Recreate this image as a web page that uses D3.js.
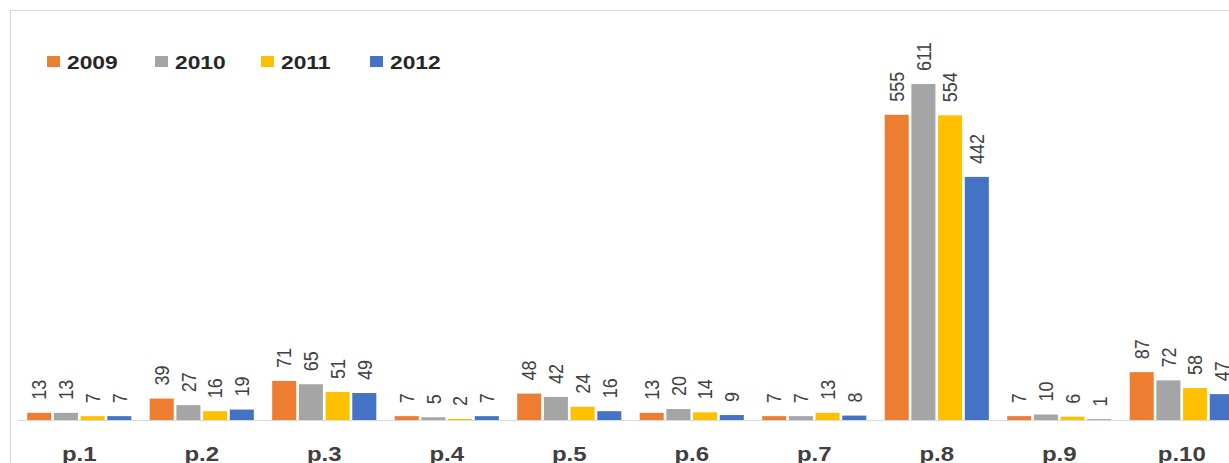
<!DOCTYPE html>
<html>
<head>
<meta charset="utf-8">
<script src="https://cdn.jsdelivr.net/npm/d3@7"></script>
<style>
  html, body { margin: 0; padding: 0; background: #fff; overflow: hidden; }
  svg { display: block; }
</style>
</head>
<body>
<svg id="chart" width="1229" height="463"></svg>
<script>
const categories = ["p.1", "p.2", "p.3", "p.4", "p.5", "p.6", "p.7", "p.8", "p.9", "p.10"];
const seriesNames = ["2009", "2010", "2011", "2012"];
const values2009 = [13, 39, 71, 7, 48, 13, 7, 555, 7, 87];
const values2010 = [13, 27, 65, 5, 42, 20, 7, 611, 10, 72];
const values2011 = [7, 16, 51, 2, 24, 14, 13, 554, 6, 58];
const values2012 = [7, 19, 49, 7, 16, 9, 8, 442, 1, 47];
const seriesValues = [values2009, values2010, values2011, values2012];
const colors = ["#ED7D31", "#A5A5A5", "#FFC000", "#4472C4"];

const svg = d3.select("#chart");
const W = 1229, H = 463;
const baseY = 420;

// chart border (cut off at right and bottom)
svg.append("path")
  .attr("d", `M10.5,${H + 2} L10.5,10.5 L${W + 2},10.5`)
  .attr("fill", "none").attr("stroke", "#d9d9d9").attr("stroke-width", 1.2);

const x0 = d3.scaleBand().domain(categories).range([18, 1243])
  .paddingInner(0.15).paddingOuter(0.075);
const x1 = d3.scaleBand().domain(seriesNames).range([0, x0.bandwidth()])
  .paddingInner(0.1).paddingOuter(0);
const y = d3.scaleLinear().domain([0, 700]).range([baseY, 35]);

// baseline
svg.append("line")
  .attr("x1", 18).attr("x2", W).attr("y1", baseY + 0.5).attr("y2", baseY + 0.5)
  .attr("stroke", "#d9d9d9").attr("stroke-width", 1.2);

const rows = categories.map((c, i) => ({
  cat: c,
  vals: seriesNames.map((s, j) => ({ s, j, v: seriesValues[j][i] }))
}));

const groups = svg.selectAll("g.grp").data(rows).join("g")
  .attr("class", "grp")
  .attr("transform", d => `translate(${x0(d.cat)},0)`);

groups.selectAll("rect").data(d => d.vals).join("rect")
  .attr("x", d => x1(d.s))
  .attr("y", d => y(d.v))
  .attr("width", x1.bandwidth())
  .attr("height", d => baseY - y(d.v))
  .attr("fill", d => colors[d.j]);

groups.selectAll("text.val").data(d => d.vals).join("text")
  .attr("class", "val")
  .attr("transform", d => `translate(${x1(d.s) + x1.bandwidth() / 2},${y(d.v) - 13}) scale(1.15,1) rotate(-90)`)
  .attr("dy", "0.35em")
  .attr("text-anchor", "start")
  .attr("font-family", "Liberation Sans, Arial, sans-serif")
  .attr("font-size", 18)
  .attr("fill", "#404040")
  .text(d => d.v);

// category labels
svg.selectAll("text.cat").data(categories).join("text")
  .attr("class", "cat")
  .attr("transform", d => `translate(${x0(d) + x0.bandwidth() / 2},461) scale(1.2,1)`)
  .attr("text-anchor", "middle")
  .attr("font-family", "Liberation Sans, Arial, sans-serif")
  .attr("font-weight", "bold")
  .attr("font-size", 20)
  .attr("fill", "#404040")
  .text(d => d);

// legend
const legendX = [47, 155, 261, 370];
const leg = svg.selectAll("g.leg").data(seriesNames).join("g")
  .attr("class", "leg")
  .attr("transform", (d, i) => `translate(${legendX[i]},56)`);
leg.append("rect").attr("x", 0).attr("y", 0).attr("width", 13).attr("height", 11)
  .attr("fill", (d, i) => colors[i]);
leg.append("text")
  .attr("transform", "translate(20,13) scale(1.2,1)")
  .attr("font-family", "Liberation Sans, Arial, sans-serif")
  .attr("font-weight", "bold")
  .attr("font-size", 19)
  .attr("fill", "#262626")
  .text(d => d);
</script>
</body>
</html>
